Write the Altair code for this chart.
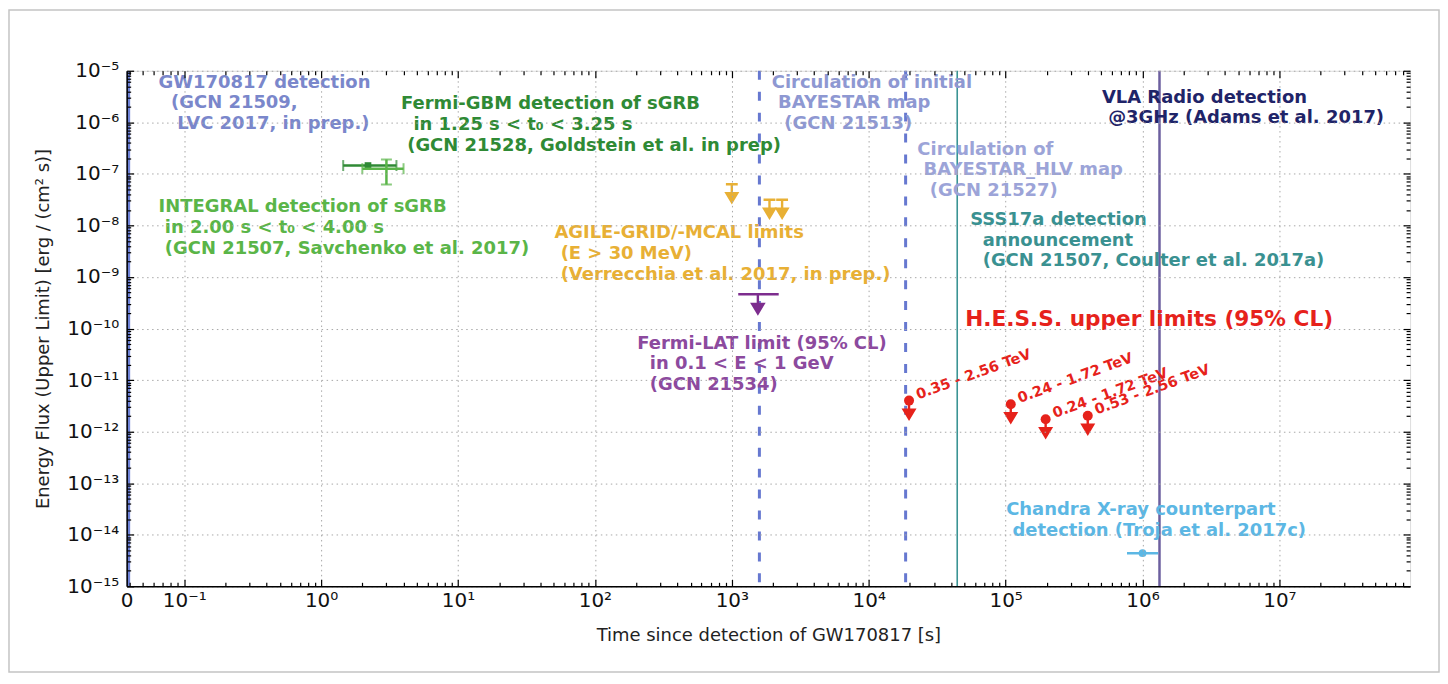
import json
import altair as alt
import pandas as pd

# ---------------- axis ranges ----------------
XMIN, XMAX = 0.038, 9.0e7
YMIN, YMAX = 1e-15, 1e-5
W, H = 1287, 517

X_TICK_VALUES = [XMIN, 0.1, 1, 10, 100, 1e3, 1e4, 1e5, 1e6, 1e7]
X_TICK_LABELS = ["0", "10⁻¹", "10⁰", "10¹", "10²", "10³", "10⁴", "10⁵", "10⁶", "10⁷"]
Y_TICK_VALUES = [1e-15, 1e-14, 1e-13, 1e-12, 1e-11, 1e-10, 1e-9, 1e-8, 1e-7, 1e-6, 1e-5]
Y_TICK_LABELS = ["10⁻¹⁵", "10⁻¹⁴", "10⁻¹³", "10⁻¹²", "10⁻¹¹", "10⁻¹⁰",
                 "10⁻⁹", "10⁻⁸", "10⁻⁷", "10⁻⁶", "10⁻⁵"]
X_MINOR = [m * 10.0 ** k for k in range(-2, 8) for m in range(2, 10) if XMIN < m * 10.0 ** k < XMAX]
Y_MINOR = [m * 10.0 ** k for k in range(-15, -5) for m in range(2, 10)]

# ---------------- data ----------------
gw_t = [XMIN]                      # GW170817 detection, t = 0
bayestar_t = [1590, 18600]         # BAYESTAR map circulations
sss_t = [4.43e4]                   # SSS17a announcement
vla_t = [1.33e6]                   # VLA radio detection

gbm_t, gbm_t_lo, gbm_t_hi, gbm_f = [2.2], [1.45], [3.55], [1.45e-7]
int_t, int_t_lo, int_t_hi = [3.0], [2.0], [4.0]
int_f, int_f_lo, int_f_hi = [1.26e-7], [6.2e-8], [1.9e-7]

agile_t = [1000, 1884, 2330]
agile_ul = [6.3e-8, 3.15e-8, 3.15e-8]

lat_t, lat_t_lo, lat_t_hi, lat_ul = [1550], [1114], [2200], [4.6e-10]

hess_t = [1.97e4, 1.09e5, 1.96e5, 3.98e5]
hess_ul = [4.0e-12, 3.4e-12, 1.74e-12, 2.03e-12]
hess_range = ["0.35 - 2.56 TeV", "0.24 - 1.72 TeV", "0.24 - 1.72 TeV", "0.53 - 2.56 TeV"]

chandra_t, chandra_t_lo, chandra_t_hi, chandra_f = [1.0e6], [7.7e5], [1.3e6], [4.4e-15]


def ind(n):
    # zero-width joiner keeps the leading (non-breaking) indentation from being trimmed
    return "\u200b" + "\u00a0" * n


ann_key = ["gw", "gbm", "integral", "agile", "lat", "bay1", "bay2", "sss", "vla", "hess", "chandra"]
ann_t = [0.065, 3.83, 0.065, 50.6, 204, 1959, 22650, 55100, 505000, 50700, 100900]
ann_f = [8.75e-6, 3.33e-6, 3.34e-8, 1.05e-8, 7.6e-11, 8.75e-6, 4.43e-7, 1.9e-8, 4.49e-6, 2.38e-10, 4.41e-14]
ann_text = [
    ["GW170817 detection", ind(2) + "(GCN 21509,", ind(3) + "LVC 2017, in prep.)"],
    ["Fermi-GBM detection of sGRB", ind(2) + "in 1.25 s < t₀ < 3.25 s", ind(1) + "(GCN 21528, Goldstein et al. in prep)"],
    ["INTEGRAL detection of sGRB", ind(1) + "in 2.00 s < t₀ < 4.00 s", ind(1) + "(GCN 21507, Savchenko et al. 2017)"],
    ["AGILE-GRID/-MCAL limits", ind(1) + "(E > 30 MeV)", ind(1) + "(Verrecchia et al. 2017, in prep.)"],
    ["Fermi-LAT limit (95% CL)", ind(2) + "in 0.1 < E < 1 GeV", ind(2) + "(GCN 21534)"],
    ["Circulation of initial", ind(1) + "BAYESTAR map", ind(2) + "(GCN 21513)"],
    ["Circulation of", ind(1) + "BAYESTAR_HLV map", ind(2) + "(GCN 21527)"],
    ["SSS17a detection", ind(2) + "announcement", ind(2) + "(GCN 21507, Coulter et al. 2017a)"],
    ["VLA Radio detection", ind(1) + "@3GHz (Adams et al. 2017)"],
    ["H.E.S.S. upper limits (95% CL)"],
    ["Chandra X-ray counterpart", ind(1) + "detection (Troja et al. 2017c)"],
]

# ---------------- styles ----------------
FONT = "DejaVu Sans"
ANN_STYLE = {
    "gw": ("#7a87cb", 18), "gbm": ("#2f8a35", 18), "integral": ("#5ab548", 18),
    "agile": ("#e8b035", 18), "lat": ("#8c4a9e", 18), "bay1": ("#8e98d2", 18),
    "bay2": ("#9ca4d8", 18), "sss": ("#3a9191", 18), "vla": ("#1f2468", 18),
    "hess": ("#e6221b", 21.7), "chandra": ("#5cb7e4", 18),
}
ARROW_CAP = "M-0.33,0L0.33,0M0,0L0,0.55M-0.3,0.5L0.3,0.5L0,1Z"
ARROW = "M0,0L0,0.55M-0.3,0.5L0.3,0.5L0,1Z"

xs = alt.Scale(type="log", domain=[XMIN, XMAX], nice=False)
ys = alt.Scale(type="log", domain=[YMIN, YMAX], nice=False)


def X(field, axis=None, title=None):
    return alt.X(field, type="quantitative", scale=xs, axis=axis, title=title)


def Y(field, axis=None, title=None):
    return alt.Y(field, type="quantitative", scale=ys, axis=axis, title=title)


def lookup_expr(values, labels):
    return f"{json.dumps(labels, ensure_ascii=False)}[indexof({json.dumps(values)}, datum.value)]"


x_main = alt.Axis(values=X_TICK_VALUES, labelExpr=lookup_expr(X_TICK_VALUES, X_TICK_LABELS),
                  grid=True, gridDash=[1.5, 3.5], gridColor="#a8a8a8", gridWidth=1,
                  ticks=False, domain=True, domainColor="black", domainWidth=1.5,
                  labelFont=FONT, labelFontSize=20, labelColor="#111111", labelPadding=4,
                  labelFlush=False, labelOverlap=False, titleFont=FONT, titleFontSize=18,
                  titleFontWeight="normal", titleColor="#222222", titlePadding=16,
                  orient="bottom", zindex=1)
y_main = alt.Axis(values=Y_TICK_VALUES, labelExpr=lookup_expr(Y_TICK_VALUES, Y_TICK_LABELS),
                  grid=True, gridDash=[1.5, 3.5], gridColor="#a8a8a8", gridWidth=1,
                  ticks=False, domain=True, domainColor="black", domainWidth=1.5,
                  labelFont=FONT, labelFontSize=20, labelColor="#111111", labelPadding=8,
                  labelFlush=False, labelOverlap=False, titleFont=FONT, titleFontSize=18,
                  titleFontWeight="normal", titleColor="#222222", titlePadding=14,
                  orient="left", zindex=1)


def tick_axis(orient, values, size):
    return alt.Axis(orient=orient, values=values, tickSize=size, offset=-size, ticks=True,
                    labels=False, domain=False, grid=False, tickColor="black",
                    tickWidth=1.2, zindex=2)


hess_df = pd.DataFrame({"t": hess_t, "f": hess_ul, "label": hess_range})

layers = []

# outer figure frame
frame = alt.Chart(pd.DataFrame({"a": [0]})).mark_rect(
    fillOpacity=0, stroke="#c4c4c4", strokeWidth=1.5
).encode(x=alt.value(-118), x2=alt.value(W + 29), y=alt.value(-61), y2=alt.value(H + 86))
layers.append(frame)

# main axes
layers.append(alt.Chart(hess_df).mark_point(opacity=0).encode(
    x=X("t", x_main, "Time since detection of GW170817 [s]"),
    y=Y("f", y_main, "Energy Flux (Upper Limit) [erg / (cm² s)]")))
# inward tick axes
for ox, oy, vx, vy, s in [("bottom", "left", X_TICK_VALUES[1:], Y_TICK_VALUES, 7),
                          ("bottom", "left", X_MINOR, Y_MINOR, 4),
                          ("top", "right", X_TICK_VALUES[1:], Y_TICK_VALUES, 7),
                          ("top", "right", X_MINOR, Y_MINOR, 4)]:
    layers.append(alt.Chart(hess_df).mark_point(opacity=0).encode(
        x=X("t", tick_axis(ox, vx, s)), y=Y("f", tick_axis(oy, vy, s))))

# vertical event lines
layers.append(alt.Chart(pd.DataFrame({"t": gw_t})).mark_rule(
    color="#6f83d8", strokeWidth=7, clip=True).encode(x=X("t")))
layers.append(alt.Chart(pd.DataFrame({"t": bayestar_t})).mark_rule(
    color="#6678d0", strokeWidth=3, strokeDash=[9, 12]).encode(x=X("t")))
layers.append(alt.Chart(pd.DataFrame({"t": sss_t})).mark_rule(
    color="#3a9494", strokeWidth=1.6).encode(x=X("t")))
layers.append(alt.Chart(pd.DataFrame({"t": vla_t})).mark_rule(
    color="#6c5f9f", strokeWidth=2.5).encode(x=X("t")))

# Fermi-GBM
gbm_df = pd.DataFrame({"t": gbm_t, "lo": gbm_t_lo, "hi": gbm_t_hi, "f": gbm_f})
GBM_C = "#2f8a35"
layers.append(alt.Chart(gbm_df).mark_rule(color=GBM_C, strokeWidth=2.5).encode(
    x=X("lo"), x2="hi", y=Y("f")))
for col in ["lo", "hi"]:
    layers.append(alt.Chart(gbm_df).mark_tick(color=GBM_C, orient="vertical", size=11, thickness=2).encode(
        x=X(col), y=Y("f")))
layers.append(alt.Chart(gbm_df).mark_square(color=GBM_C, size=45, opacity=1).encode(x=X("t"), y=Y("f")))

# INTEGRAL
int_df = pd.DataFrame({"t": int_t, "lo": int_t_lo, "hi": int_t_hi, "f": int_f,
                       "flo": int_f_lo, "fhi": int_f_hi})
INT_C = "#5ab548"
layers.append(alt.Chart(int_df).mark_rule(color=INT_C, strokeWidth=2.5).encode(
    x=X("lo"), x2="hi", y=Y("f")))
layers.append(alt.Chart(int_df).mark_rule(color=INT_C, strokeWidth=2.5).encode(
    x=X("t"), y=Y("flo"), y2="fhi"))
for col in ["lo", "hi"]:
    layers.append(alt.Chart(int_df).mark_tick(color=INT_C, orient="vertical", size=11, thickness=2).encode(
        x=X(col), y=Y("f")))
for col in ["flo", "fhi"]:
    layers.append(alt.Chart(int_df).mark_tick(color=INT_C, orient="horizontal", size=11, thickness=2).encode(
        x=X("t"), y=Y(col)))

# AGILE upper limits
AG_C = "#e8b035"
layers.append(alt.Chart(pd.DataFrame({"t": agile_t, "f": agile_ul})).mark_point(
    shape=ARROW_CAP, size=1296, filled=True, color=AG_C, stroke=AG_C, strokeWidth=2.4, opacity=1
).encode(x=X("t"), y=Y("f")))

# Fermi-LAT
LAT_C = "#7d2d8e"
lat_df = pd.DataFrame({"t": lat_t, "lo": lat_t_lo, "hi": lat_t_hi, "f": lat_ul})
layers.append(alt.Chart(lat_df).mark_rule(color=LAT_C, strokeWidth=2.5).encode(
    x=X("lo"), x2="hi", y=Y("f")))
layers.append(alt.Chart(lat_df).mark_point(
    shape=ARROW, size=1444, filled=True, color=LAT_C, stroke=LAT_C, strokeWidth=2.4, opacity=1
).encode(x=X("t"), y=Y("f")))

# H.E.S.S.
HESS_C = "#e6221b"
layers.append(alt.Chart(hess_df).mark_point(
    shape=ARROW, size=1296, filled=True, color=HESS_C, stroke=HESS_C, strokeWidth=2.4, opacity=1
).encode(x=X("t"), y=Y("f")))
layers.append(alt.Chart(hess_df).mark_circle(color=HESS_C, size=100, opacity=1).encode(
    x=X("t"), y=Y("f")))
layers.append(alt.Chart(hess_df).mark_text(
    align="left", baseline="middle", angle=340, dx=9, dy=-2, font=FONT, fontWeight="bold",
    fontSize=14.5, color=HESS_C).encode(x=X("t"), y=Y("f"), text="label:N"))

# Chandra
CH_C = "#5cb7e4"
ch_df = pd.DataFrame({"t": chandra_t, "lo": chandra_t_lo, "hi": chandra_t_hi, "f": chandra_f})
layers.append(alt.Chart(ch_df).mark_rule(color=CH_C, strokeWidth=2.5).encode(
    x=X("lo"), x2="hi", y=Y("f")))
layers.append(alt.Chart(ch_df).mark_circle(color=CH_C, size=60, opacity=1).encode(
    x=X("t"), y=Y("f")))

# annotations
ann_df = pd.DataFrame({"key": ann_key, "t": ann_t, "f": ann_f,
                       "text": ["\n".join(lines) for lines in ann_text]})
for key in ann_key:
    color, fs = ANN_STYLE[key]
    layers.append(alt.Chart(ann_df).transform_filter(alt.datum.key == key).mark_text(
        align="left", baseline="top", font=FONT, fontWeight="bold", fontSize=fs,
        lineHeight=20.7, lineBreak="\n", color=color
    ).encode(x=X("t"), y=Y("f"), text="text:N"))

chart = alt.layer(*layers).resolve_axis(x="independent", y="independent").properties(
    width=W, height=H, padding=0
).configure_view(stroke="black", strokeWidth=1.5).configure(background="white")

chart.save("out.html", embed_options={"renderer": "svg", "actions": False})
